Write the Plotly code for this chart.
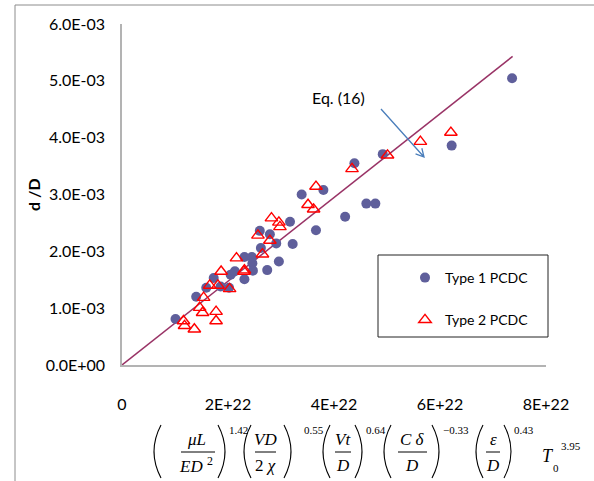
import numpy as np
import plotly.graph_objects as go

# ---------------- data ----------------
type1_x = [1.01, 1.40, 1.59, 1.73, 1.86, 2.02, 2.05, 2.13, 2.31, 2.31, 2.45, 2.46, 2.47,
           2.74, 2.96, 2.62, 2.60, 2.79, 2.91, 3.17, 3.22, 3.39, 3.66, 3.80, 4.21, 4.385,
           4.61, 4.78, 4.92, 6.22, 7.36]
type1_y = [0.81, 1.20, 1.36, 1.53, 1.38, 1.36, 1.59, 1.65, 1.51, 1.90, 1.90, 1.79, 1.66,
           1.67, 1.82, 2.06, 2.36, 2.30, 2.14, 2.52, 2.13, 3.00, 2.37, 3.08, 2.61, 3.55,
           2.84, 2.84, 3.71, 3.86, 5.045]
type2_x = [1.16, 1.18, 1.365, 1.465, 1.52, 1.54, 1.655, 1.775, 1.775, 1.81, 1.87, 2.03,
           2.16, 2.30, 2.31, 2.65, 2.565, 2.79, 2.82, 2.96, 2.98, 3.51, 3.615, 3.66, 4.34,
           5.01, 5.63, 6.205]
type2_y = [0.775, 0.69, 0.63, 1.01, 0.92, 1.185, 1.40, 0.94, 0.775, 1.40, 1.645, 1.34,
           1.88, 1.645, 1.67, 1.95, 2.28, 2.19, 2.585, 2.51, 2.43, 2.82, 2.74, 3.14, 3.45,
           3.69, 3.93, 4.09]
eq_x = [0.0, 7.37]
eq_y = [0.0, 5.43]

x_scale = 1e22
y_scale = 1e-3

x_tickvals = [0, 2e22, 4e22, 6e22, 8e22]
x_ticktext = ["0", "2E+22", "4E+22", "6E+22", "8E+22"]
y_tickvals = [0, 1e-3, 2e-3, 3e-3, 4e-3, 5e-3, 6e-3]
y_ticktext = ["0.0E+00", "1.0E-03", "2.0E-03", "3.0E-03", "4.0E-03", "5.0E-03", "6.0E-03"]

series_names = ["Type 1 PCDC", "Type 2 PCDC"]

# ---------------- layout geometry ----------------
W, H = 594, 481
L, R, T, B = 122, 48, 24, 116
PW, PH = W - L - R, H - T - B


def PX(px):
    return (px - L) / PW


def PY(py):
    return (H - B - py) / PH


SANS = "Lato, Liberation Sans, sans-serif"
TICKFONT = dict(family=SANS, size=16, color="#000000")

fig = go.Figure()

fig.add_trace(go.Scatter(
    x=[v * x_scale for v in eq_x], y=[v * y_scale for v in eq_y],
    mode="lines", line=dict(color="#993366", width=1.5),
    showlegend=False, hoverinfo="skip"))

fig.add_trace(go.Scatter(
    x=[v * x_scale for v in type1_x], y=[v * y_scale for v in type1_y],
    mode="markers", name=series_names[0], legendgroup="a",
    marker=dict(symbol="circle", size=10, color="#5F5F9B", line=dict(width=0))))

fig.add_trace(go.Scatter(
    x=[v * x_scale for v in type2_x], y=[v * y_scale for v in type2_y],
    mode="markers", name=series_names[1], legendgroup="b",
    marker=dict(symbol="triangle-up-open", size=11, color="#FF0000",
                line=dict(width=1.4, color="#FF0000"))))

shapes = []
annotations = []

# outer chart-area border
shapes.append(dict(type="rect", xref="paper", yref="paper",
                   x0=PX(15), x1=PX(700), y0=PY(600), y1=PY(5),
                   line=dict(color="#8C8C8C", width=1), layer="below"))

# legend box
shapes.append(dict(type="rect", xref="paper", yref="paper",
                   x0=PX(378), x1=PX(548), y0=PY(337), y1=PY(255),
                   line=dict(color="#222222", width=1), fillcolor="rgba(0,0,0,0)"))

# arrow for Eq. (16)
ax0, ay0, ax1, ay1 = 381, 109, 424, 157
d = np.array([ax1 - ax0, ay1 - ay0], float)
d /= np.linalg.norm(d)


def rot(v, a):
    c, s = np.cos(a), np.sin(a)
    return np.array([c * v[0] - s * v[1], s * v[0] + c * v[1]])


h1 = np.array([ax1, ay1]) - 9 * rot(d, np.radians(28))
h2 = np.array([ax1, ay1]) - 9 * rot(d, np.radians(-28))
path = (f"M {PX(ax0)},{PY(ay0)} L {PX(ax1)},{PY(ay1)} "
        f"M {PX(h1[0])},{PY(h1[1])} L {PX(ax1)},{PY(ay1)} L {PX(h2[0])},{PY(h2[1])}")
shapes.append(dict(type="path", xref="paper", yref="paper", path=path,
                   line=dict(color="#4A7EBB", width=1.3)))

annotations.append(dict(x=PX(338), y=PY(97), xref="paper", yref="paper",
                        xanchor="center", yanchor="middle",
                        text="Eq. (16)", showarrow=False,
                        font=dict(family=SANS, size=16, color="#000")))

# y-axis title
annotations.append(dict(x=PX(33), y=PY(195), xref="paper", yref="paper",
                        xanchor="center", yanchor="middle",
                        text="<b>d /D</b>", showarrow=False, textangle=-90,
                        font=dict(family=SANS, size=16, color="#000")))

# ---------------- x-axis formula ----------------
SERIF = "Liberation Serif, Times New Roman, serif"
FS = 17
ES = 11


def txt(x, y, s, size=FS):
    annotations.append(dict(x=PX(x), y=PY(y), xref="paper", yref="paper", text=s,
                            showarrow=False, xanchor="center", yanchor="middle",
                            font=dict(family=SERIF, size=size, color="#000")))


def paren(x, left=True, top=425, bot=478):
    bulge = -14 if left else 14
    xe = x + (4 if left else -4)
    p = f"M {PX(xe)},{PY(top)} Q {PX(xe + bulge)},{PY((top + bot) / 2)} {PX(xe)},{PY(bot)}"
    shapes.append(dict(type="path", xref="paper", yref="paper", path=p,
                       line=dict(color="#000", width=1.1)))


def frac(cx, num, den, x0, x1, lp, rp, exp, ex):
    txt(cx, 439, num)
    txt(cx, 465, den)
    shapes.append(dict(type="line", xref="paper", yref="paper",
                       x0=PX(x0), x1=PX(x1), y0=PY(452), y1=PY(452),
                       line=dict(color="#000", width=1)))
    paren(lp, True)
    paren(rp, False)
    txt(ex, 430, exp, ES)


frac(196, "<i>μL</i>", "<i>ED</i> <sup>2</sup>", 181, 215, 157, 222, "1.42", 238)
frac(265, "<i>VD</i>", "2 <i>χ</i>", 255, 276, 247, 288, "0.55", 314)
frac(343, "<i>Vt</i>", "<i>D</i>", 335, 351, 326, 359, "0.64", 376)
frac(412, "<i>C δ</i>", "<i>D</i>", 398, 427, 387, 436, "−0.33", 456)
frac(493, "<i>ε</i>", "<i>D</i>", 486, 500, 479, 508, "0.43", 524)
txt(548, 456, "<i>T</i>", FS + 1)
txt(556, 468, "0", ES)
txt(571, 446, "3.95", ES)

fig.update_layout(
    width=W, height=H,
    margin=dict(l=L, r=R, t=T, b=B),
    paper_bgcolor="#FFFFFF", plot_bgcolor="#FFFFFF",
    shapes=shapes, annotations=annotations,
    showlegend=True,
    legend=dict(x=PX(405), y=PY(262), xanchor="left", yanchor="top",
                bgcolor="rgba(0,0,0,0)", borderwidth=0,
                font=dict(family=SANS, size=14, color="#000"),
                tracegroupgap=21, traceorder="grouped"),
    xaxis=dict(range=[0, 8e22], tickvals=x_tickvals, ticktext=x_ticktext,
               showgrid=False, zeroline=False, showline=True, linecolor="#B3B3B3",
               linewidth=1.5, ticks="outside", ticklen=24, tickcolor="rgba(0,0,0,0)",
               tickfont=TICKFONT, fixedrange=True),
    yaxis=dict(range=[0, 6e-3], tickvals=y_tickvals, ticktext=y_ticktext,
               showgrid=False, zeroline=False, showline=True, linecolor="#B3B3B3",
               linewidth=1.5, ticks="outside", ticklen=12, tickcolor="rgba(0,0,0,0)",
               tickfont=TICKFONT, fixedrange=True),
)

fig.write_html("out.html", config={"displayModeBar": False},
               post_script="document.body.style.margin='0';document.body.style.padding='0';")
